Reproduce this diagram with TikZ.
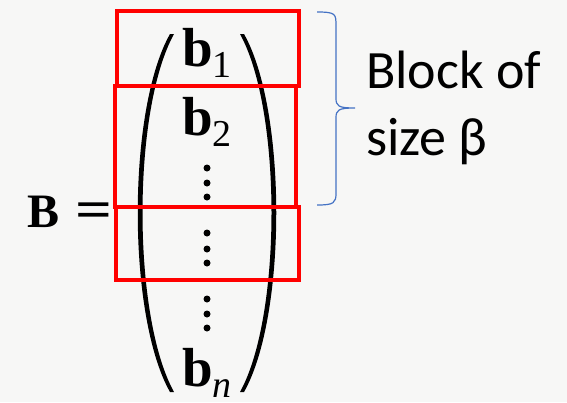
\documentclass[tikz,border=0pt]{standalone}
\usepackage{fontspec}
\setmainfont{Carlito}
\newfontfamily\vecfont{Liberation Serif}
\usepackage{tikz}
\usetikzlibrary{positioning}

\definecolor{bgpaper}{RGB}{247,247,246}
\definecolor{braceblue}{RGB}{68,114,196}

\newcommand{\bvec}[1]{{\vecfont\bfseries b}\raisebox{-11pt}[\height][0pt]{\vecfont\fontsize{38}{38}\selectfont #1}}

\begin{document}
\begin{tikzpicture}[x=1pt,y=-1pt,
  vec/.style={inner sep=0pt,anchor=base,font=\vecfont\fontsize{55}{60}\selectfont},
  label/.style={inner sep=0pt,anchor=base west,font=\fontsize{54}{60}\selectfont},
  blockbox/.style={draw=red,line width=4.5pt},
  paren/.style={fill=black}]
  \fill[bgpaper] (0,0) rectangle (567,402);
  \useasboundingbox (0,0) rectangle (567,402);

  \node[inner sep=0pt,anchor=base west,font=\vecfont\bfseries\fontsize{48}{56}\selectfont]
    (lhs) at (27,227) {B\hspace{16pt}\scalebox{1.35}[1.1]{=}};

  % the column vector
  \fill[paren] (170,34) .. controls (127,110) and (127,316) .. (170,392)
    -- (174,392) .. controls (132,316) and (132,110) .. (174,34) -- cycle;
  \fill[paren] (244,34) .. controls (287,110) and (287,316) .. (244,392)
    -- (240,392) .. controls (282,316) and (282,110) .. (240,34) -- cycle;
  \node[vec] (b1) at (207,66) {\bvec{1}};
  \node[vec] (b2) at (207,135) {\bvec{2}};
  \node[vec] (bn) at (207,386) {\bvec{\itshape n}};
  \foreach \y in {168,183,197, 233,249,263, 299,314,328}
    \fill (207,\y) circle (3.5);

  % blocks
  \draw[blockbox] (117,11) rectangle (299,86);
  \draw[blockbox] (115,86) rectangle (296,207);
  \draw[blockbox] (116,207) rectangle (299,280);

  \draw[braceblue,line width=1.2pt] (317,12) .. controls (336,12) and (336,14) .. (336,26)
    -- (336,98) .. controls (336,106) and (338,108) .. (355,108)
    .. controls (338,108) and (336,110) .. (336,118)
    -- (336,193) .. controls (336,203) and (334,205) .. (317,205);
  \node[label] (blk) at (366,88) {Block of};
  \node[label,below=67pt of blk.base west,anchor=base west] (size) {size β};
\end{tikzpicture}
\end{document}
